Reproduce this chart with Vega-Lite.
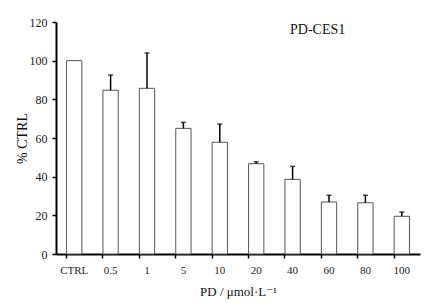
{
  "$schema": "https://vega.github.io/schema/vega-lite/v6.json",
  "width": 364,
  "height": 232,
  "autosize": {"type": "none"},
  "padding": {"left": 56, "top": 22, "right": 10, "bottom": 49},
  "background": "white",
  "config": {
    "view": {"stroke": null},
    "font": "Liberation Serif",
    "axisY": {
      "titleFont": "Liberation Serif", "titleFontSize": 14, "titleFontWeight": "normal", "titleColor": "#111", "titlePadding": 0,
      "tickCount": 6, "grid": false, "labelOverlap": false,
      "labelFont": "Liberation Serif", "labelFontSize": 12, "labelColor": "#222", "labelPadding": 5,
      "tickSize": 4, "tickColor": "#000", "tickWidth": 1.5,
      "domainColor": "#000", "domainWidth": 2
    }
  },
  "data": {"values": [
    {"dose": "CTRL", "value": 100, "upper": 100},
    {"dose": "0.5", "value": 84.7, "upper": 92.6},
    {"dose": "1", "value": 85.7, "upper": 104},
    {"dose": "5", "value": 65, "upper": 68.1},
    {"dose": "10", "value": 57.8, "upper": 67.2},
    {"dose": "20", "value": 46.7, "upper": 47.7},
    {"dose": "40", "value": 38.6, "upper": 45.3},
    {"dose": "60", "value": 26.9, "upper": 30.4},
    {"dose": "80", "value": 26.5, "upper": 30.4},
    {"dose": "100", "value": 19.5, "upper": 21.7}
  ]},
  "encoding": {
    "x": {
      "field": "dose", "type": "nominal", "sort": null,
      "scale": {"paddingInner": 0.58, "paddingOuter": 0.29},
      "axis": {
        "title": "PD / μmol·L⁻¹", "titleFont": "Liberation Serif, DejaVu Serif", "titleFontSize": 13, "titleFontWeight": "normal", "titleColor": "#111", "titlePadding": 10,
        "labelAngle": 0, "labelFont": "Liberation Serif", "labelFontSize": 11, "labelColor": "#222", "labelPadding": 6,
        "bandPosition": 0, "tickSize": 4, "tickColor": "#000", "tickWidth": 1.5,
        "domainColor": "#000", "domainWidth": 2
      }
    }
  },
  "layer": [
    {
      "mark": {"type": "bar", "fill": "white", "stroke": "#555", "strokeWidth": 1},
      "encoding": {
        "y": {
          "field": "value", "type": "quantitative",
          "scale": {"domain": [0, 120]},
          "axis": {"title": "% CTRL"}
        }
      }
    },
    {
      "transform": [{"filter": "datum.upper > datum.value"}],
      "mark": {"type": "rule", "color": "#000", "strokeWidth": 1.5},
      "encoding": {"y": {"field": "value", "type": "quantitative", "axis": {"title": "% CTRL"}}, "y2": {"field": "upper"}}
    },
    {
      "transform": [{"filter": "datum.upper > datum.value"}],
      "mark": {"type": "tick", "color": "#000", "thickness": 1.5, "size": 5},
      "encoding": {"y": {"field": "upper", "type": "quantitative", "axis": {"title": "% CTRL"}}}
    },
    {
      "data": {"values": [{"label": "PD-CES1", "dose": "40", "value": 116}]},
      "mark": {"type": "text", "font": "Liberation Serif", "fontSize": 14, "color": "#111", "dx": 25, "baseline": "middle"},
      "encoding": {"y": {"field": "value", "type": "quantitative", "axis": {"title": "% CTRL"}}, "text": {"field": "label"}}
    }
  ]
}
